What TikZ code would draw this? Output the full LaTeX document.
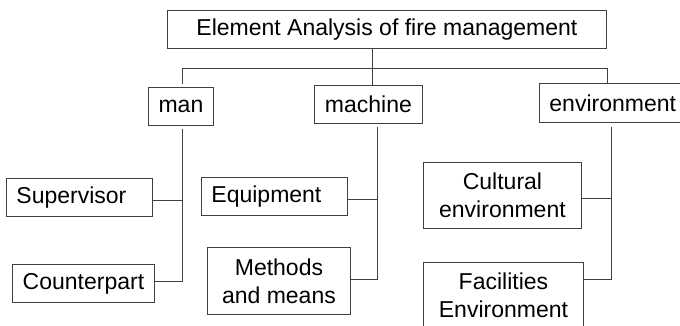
\documentclass[tikz,border=0pt]{standalone}
\usepackage{fontspec}
\setmainfont{Liberation Sans}
\begin{document}
\begin{tikzpicture}[x=1pt,y=-1pt,
  box/.style={draw=black!75, line width=0.9pt, anchor=north west, inner xsep=10pt,
    inner ysep=0pt, align=center, font=\fontsize{23}{28}\selectfont},
  leftbox/.style={box, align=left},
  link/.style={draw=black!75, line width=0.9pt}]
\useasboundingbox (0,0) rectangle (680,326);

% root and the three elements
\node[box, minimum width=439pt, minimum height=38pt] (top) at (167,10) {Element Analysis of fire management};
\node[box, minimum width=65pt, minimum height=38pt] (man) at (148,87) {man};
\node[box, minimum width=108pt, minimum height=38pt] (machine) at (314,85) {machine};
\node[box, minimum width=140pt, minimum height=39pt] (env) at (539,83) {environment};

% sub-elements
\node[leftbox, text width=126pt, minimum height=38pt] (sup) at (6,178) {Supervisor};
\node[box, minimum width=142pt, minimum height=38pt] (cp) at (12,264) {Counterpart};
\node[leftbox, text width=126pt, minimum height=38pt] (equip) at (201,177) {Equipment};
\node[box, minimum width=143pt, minimum height=67pt] (meth) at (207,247) {Methods\\and means};
\node[box, minimum width=158pt, minimum height=66pt] (cult) at (423,162) {Cultural\\environment};
\node[box, minimum width=160pt, minimum height=66pt] (fac) at (423,262) {Facilities\\Environment};

% bus under the root
\coordinate (hub) at (372,68);
\coordinate (busL) at (182,68);
\coordinate (busR) at (607,68);
\draw[link] (hub |- top.south) -- (hub |- machine.north);
\draw[link] ([yshift=3pt]man.north -| busL) -- (busL) -- (busR) -- (busR |- env.north);

% trunks and branches
\coordinate (m1) at (182,200);
\coordinate (m2) at (182,281);
\draw[link] ([yshift=-3pt]man.south -| m2) -- (m2) -- (m2 -| cp.east);
\draw[link] (m1 -| sup.east) -- (m1);

\coordinate (c1) at (377,199);
\coordinate (c2) at (377,279);
\draw[link] ([yshift=-3pt]machine.south -| c2) -- (c2) -- (c2 -| meth.east);
\draw[link] (c1 -| equip.east) -- (c1);

\coordinate (e1) at (611,198);
\coordinate (e2) at (611,279);
\draw[link] ([yshift=-4pt]env.south -| e2) -- (e2) -- (e2 -| fac.east);
\draw[link] (e1 -| cult.east) -- (e1);
\end{tikzpicture}
\end{document}
